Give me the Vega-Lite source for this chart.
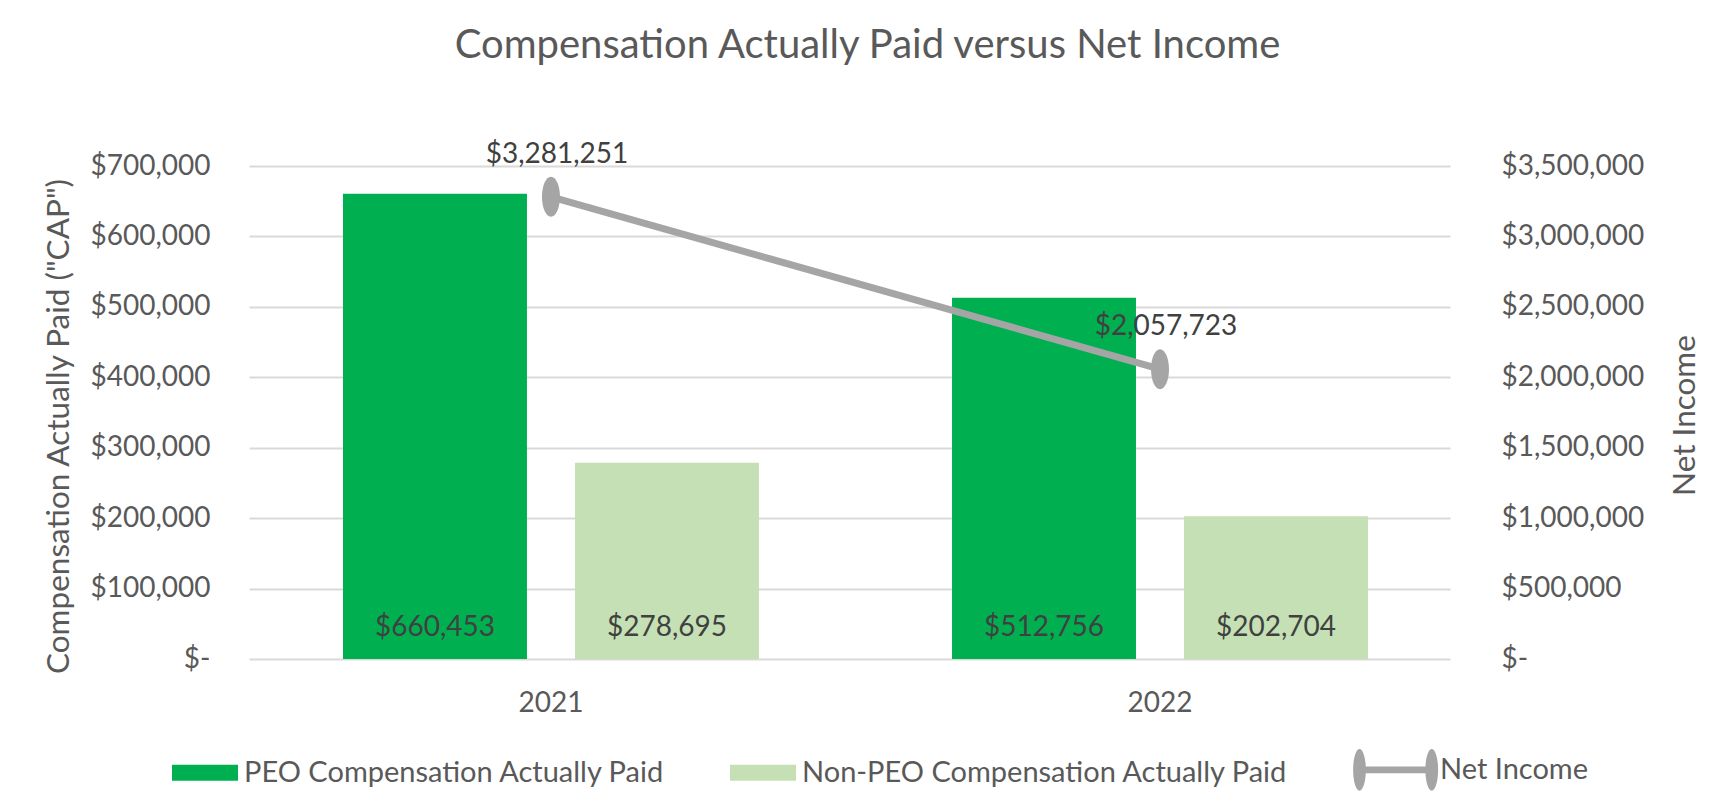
{
  "$schema": "https://vega.github.io/schema/vega-lite/v6.json",
  "autosize": {"type": "none"},
  "padding": {"left": 249, "top": 166, "right": 286, "bottom": 152},
  "width": 1201,
  "height": 493,
  "background": "white",
  "config": {
    "view": {"stroke": null},
    "font": "Lato",
    "axis": {"labelFont": "Lato", "titleFont": "Lato", "labelColor": "#595959", "titleColor": "#595959", "labelFontSize": 28, "titleFontSize": 31.5, "titleFontWeight": "normal", "domain": false, "ticks": false},
    "legend": {"labelFont": "Lato", "labelFontSize": 29, "labelColor": "#595959", "labelLimit": 0}
  },
  "title": {"text": "Compensation Actually Paid versus Net Income", "font": "Lato", "fontSize": 40, "fontWeight": "normal", "color": "#595959", "anchor": "middle", "frame": "group", "offset": 75, "dx": 18},
  "datasets": {
    "cap": [
      {"year": "2021", "series": "PEO Compensation Actually Paid", "value": 660453},
      {"year": "2021", "series": "Non-PEO Compensation Actually Paid", "value": 278695},
      {"year": "2022", "series": "PEO Compensation Actually Paid", "value": 512756},
      {"year": "2022", "series": "Non-PEO Compensation Actually Paid", "value": 202704}
    ],
    "net": [
      {"year": "2021", "net": 3281251},
      {"year": "2022", "net": 2057723}
    ]
  },
  "encoding": {
    "x": {"field": "year", "type": "nominal", "scale": {"paddingInner": 0.317, "paddingOuter": 0.1445, "align": 0.534}, "axis": {"title": null, "labelAngle": 0, "labelPadding": 30, "grid": false}}
  },
  "layer": [
    {
      "data": {"name": "cap"},
      "encoding": {
        "xOffset": {"field": "series", "type": "nominal", "scale": {"domain": ["PEO Compensation Actually Paid", "Non-PEO Compensation Actually Paid"], "paddingInner": 0.207, "paddingOuter": 0}}
      },
      "layer": [
        {
          "mark": {"type": "bar"},
          "encoding": {
            "y": {"field": "value", "type": "quantitative", "scale": {"domain": [0, 700000], "nice": false}, "axis": {"orient": "left", "values": [0, 100000, 200000, 300000, 400000, 500000, 600000, 700000], "labelExpr": "datum.value == 0 ? '$-\u00a0\u00a0\u00a0' : format(datum.value, '$,')", "labelPadding": 39, "grid": true, "gridColor": "#D9D9D9", "gridWidth": 2, "title": "Compensation Actually Paid (\"CAP\")", "titleX": -190, "titleY": 260, "titleAngle": 270, "titleAlign": "center", "titleBaseline": "middle"}},
            "color": {"field": "series", "type": "nominal", "scale": {"domain": ["PEO Compensation Actually Paid", "Non-PEO Compensation Actually Paid", "Net Income"], "range": ["#00B050", "#C5E0B4", "#A5A5A5"]},
              "legend": {"title": null, "orient": "none", "legendX": -77, "legendY": 561, "direction": "horizontal", "symbolSize": 7225, "symbolStrokeWidth": 0, "labelOffset": 2, "columnPadding": 65,
                "encode": {
                  "symbols": {"update": {"shape": {"signal": "datum.value === 'Net Income' ? 'M-1.2,-0.08H0.5V0.08H-1.2Z M-1.2,-0.49A0.15,0.49 0 1,1 -1.2,0.49A0.15,0.49 0 1,1 -1.2,-0.49Z M0.5,-0.49A0.15,0.49 0 1,1 0.5,0.49A0.15,0.49 0 1,1 0.5,-0.49Z' : 'M-1,-0.19H0.553V0.19H-1Z'"}, "strokeWidth": {"value": 0}}},
                  "labels": {"update": {"dx": {"signal": "datum.value === 'Net Income' ? -15 : -15"}}}
                }}}
          }
        },
        {
          "mark": {"type": "text", "baseline": "middle", "align": "center", "dy": -31, "fontSize": 28, "font": "Lato", "color": "#404040"},
          "encoding": {
            "y": {"datum": 0, "type": "quantitative"},
            "text": {"field": "value", "type": "quantitative", "format": "$,.0f"}
          }
        }
      ]
    },
    {
      "data": {"name": "net"},
      "layer": [
        {
          "mark": {"type": "line", "color": "#A5A5A5", "strokeWidth": 7},
          "encoding": {
            "y": {"field": "net", "type": "quantitative", "scale": {"domain": [0, 3500000], "nice": false}, "axis": {"orient": "right", "values": [0, 500000, 1000000, 1500000, 2000000, 2500000, 3000000, 3500000], "labelExpr": "datum.value == 0 ? '$-' : format(datum.value, '$,')", "labelAlign": "left", "labelPadding": 51, "grid": false, "title": "Net Income", "titleX": 235, "titleY": 249, "titleAngle": 270, "titleAlign": "center", "titleBaseline": "middle"}}
          }
        },
        {
          "mark": {"type": "point", "filled": true, "opacity": 1, "color": "#A5A5A5", "size": 1600, "shape": "M0,-1A0.45,1 0 1,1 0,1A0.45,1 0 1,1 0,-1Z"},
          "encoding": {
            "y": {"field": "net", "type": "quantitative"}
          }
        },
        {
          "mark": {"type": "text", "baseline": "middle", "align": "center", "dy": -42, "dx": 6, "fontSize": 28, "font": "Lato", "color": "#404040"},
          "encoding": {
            "y": {"field": "net", "type": "quantitative"},
            "text": {"field": "net", "type": "quantitative", "format": "$,.0f"}
          }
        }
      ]
    }
  ],
  "resolve": {"scale": {"y": "independent"}}
}
